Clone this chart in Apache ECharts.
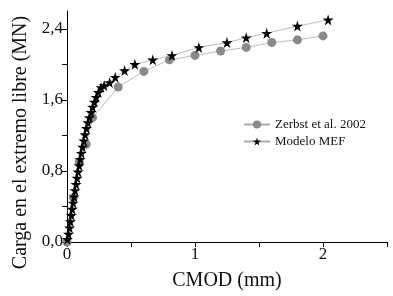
<!DOCTYPE html>
<html>
<head>
<meta charset="utf-8">
<script src="https://cdn.jsdelivr.net/npm/echarts@6/dist/echarts.min.js"></script>
<style>
  html, body { margin: 0; padding: 0; background: #fff; }
  #chart { width: 393px; height: 296px; }
</style>
</head>
<body>
<div id="chart"></div>
<script>
// series names
var seriesNames = ['Zerbst et al. 2002', 'Modelo MEF'];

// Zerbst et al. 2002 : [CMOD (mm), carga (MN)]
var zerbstData = [
    [0, 0], [0.05, 0.50], [0.096, 0.90], [0.15, 1.10], [0.20, 1.40],
    [0.40, 1.745], [0.60, 1.92], [0.80, 2.05], [1.00, 2.10], [1.20, 2.15],
    [1.40, 2.19], [1.60, 2.245], [1.80, 2.275], [2.00, 2.32]
];

// Modelo MEF
var mefData = [
    [0.003, 0.03], [0.012, 0.09], [0.02, 0.16], [0.027, 0.23], [0.034, 0.30],
    [0.041, 0.37], [0.048, 0.44], [0.055, 0.51], [0.063, 0.58], [0.071, 0.65],
    [0.079, 0.72], [0.087, 0.79], [0.095, 0.86], [0.103, 0.93], [0.112, 1.00],
    [0.121, 1.07], [0.131, 1.14], [0.141, 1.21], [0.152, 1.28], [0.163, 1.345],
    [0.175, 1.40], [0.188, 1.46], [0.2, 1.52], [0.214, 1.575], [0.228, 1.63],
    [0.245, 1.685], [0.266, 1.74], [0.29, 1.76], [0.333, 1.795], [0.377, 1.855],
    [0.45, 1.93], [0.53, 2.00], [0.67, 2.05], [0.82, 2.10], [1.03, 2.19],
    [1.25, 2.245], [1.40, 2.30], [1.56, 2.35], [1.80, 2.43], [2.04, 2.50]
];

// ticks
var xTicks = { min: 0, max: 2.5, interval: 0.5 };
var yTicks = { min: 0, max: 2.6, interval: 0.4 };

var STAR = 'path://M50,0 L61,35 L98,35 L68,57 L79,91 L50,70 L21,91 L32,57 L2,35 L39,35 Z';
var FONT = 'Liberation Serif';

var myChart = echarts.init(document.getElementById('chart'), null, { renderer: 'canvas' });

var option = {
    backgroundColor: '#fff',
    animation: false,
    textStyle: { fontFamily: FONT },
    grid: { left: 67, right: 6, top: 11, bottom: 51 },
    legend: {
        orient: 'vertical',
        left: 238,
        top: 113,
        itemWidth: 26,
        itemHeight: 10,
        itemGap: 4,
        textStyle: { fontFamily: FONT, fontSize: 13, color: '#111' },
        data: seriesNames
    },
    xAxis: {
        type: 'value',
        min: xTicks.min,
        max: xTicks.max,
        interval: xTicks.interval,
        name: 'CMOD (mm)',
        nameLocation: 'middle',
        nameGap: 29,
        nameTextStyle: { fontFamily: FONT, fontSize: 20, color: '#111' },
        axisLine: { show: true, lineStyle: { color: '#000', width: 1 } },
        axisTick: { show: true, length: 5, lineStyle: { color: '#000' } },
        axisLabel: {
            fontFamily: FONT, fontSize: 17, color: '#111', margin: 4,
            formatter: function (v) {
                return Math.abs(v - Math.round(v)) < 1e-6 ? String(Math.round(v)) : '';
            }
        },
        splitLine: { show: false }
    },
    yAxis: {
        type: 'value',
        min: yTicks.min,
        max: yTicks.max,
        interval: yTicks.interval,
        name: 'Carga en el extremo libre (MN)',
        nameLocation: 'middle',
        nameGap: 33,
        nameTextStyle: { fontFamily: FONT, fontSize: 20, color: '#111', padding: [0, 32, 0, 0] },
        axisLine: { show: true, lineStyle: { color: '#000', width: 1 } },
        axisTick: { show: true, length: 5, lineStyle: { color: '#000' } },
        axisLabel: {
            fontFamily: FONT, fontSize: 17, color: '#111', margin: 4,
            showMaxLabel: false,
            formatter: function (v) {
                var k = v / 0.8;
                if (Math.abs(k - Math.round(k)) > 1e-6) return '';
                return v.toFixed(1).replace('.', ',');
            }
        },
        splitLine: { show: false }
    },
    series: [
        {
            name: seriesNames[0],
            type: 'line',
            data: zerbstData,
            symbol: 'circle',
            symbolSize: 9,
            itemStyle: { color: '#8a8a8a' },
            lineStyle: { color: '#aaa', width: 0.8 },
            z: 2
        },
        {
            name: seriesNames[1],
            type: 'line',
            data: mefData,
            symbol: STAR,
            symbolSize: 11,
            itemStyle: { color: '#000' },
            lineStyle: { color: '#aaa', width: 0.8 },
            z: 3
        }
    ]
};

myChart.setOption(option);
</script>
</body>
</html>
